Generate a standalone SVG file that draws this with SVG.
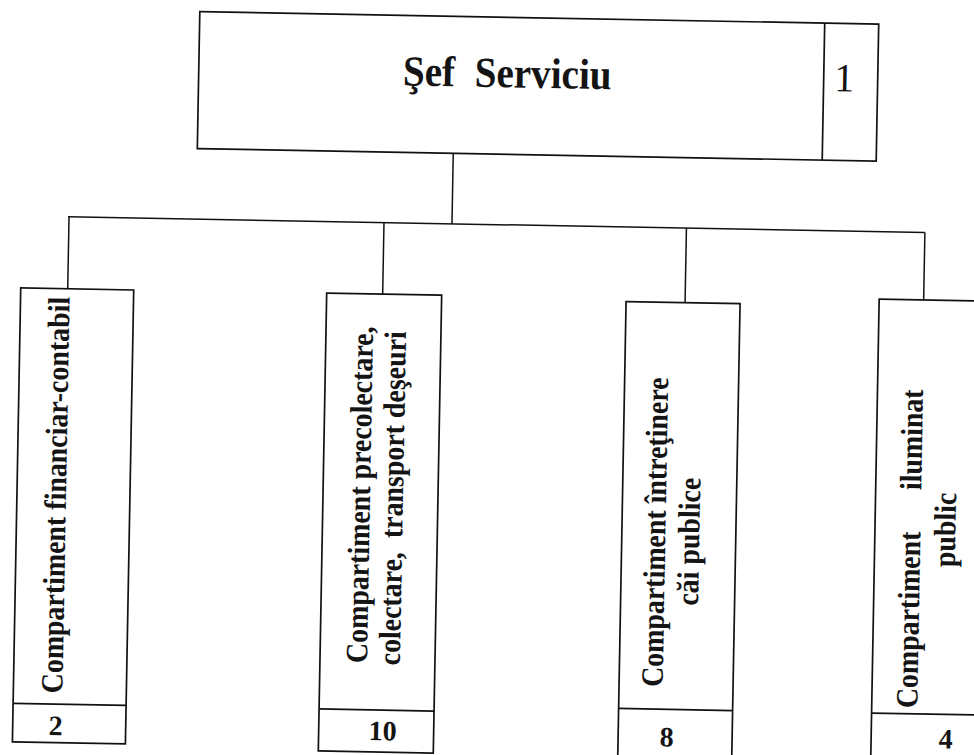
<svg xmlns="http://www.w3.org/2000/svg" width="974" height="755" viewBox="0 0 974 755">
<style>
.box{fill:none;stroke:#111;stroke-width:1.7}
.ln{stroke:#111;stroke-width:1.5;fill:none}
.t{font-family:"Liberation Serif","Times New Roman",serif;font-weight:bold;fill:#141414;white-space:pre}
.v{font-size:31px;text-anchor:middle}
.n{font-size:28px;text-anchor:middle}
</style>
<rect width="974" height="755" fill="#ffffff"/>
<g transform="rotate(1.05)">
<g id="connectors">
<line class="ln" x1="456" y1="145" x2="456" y2="215.5"/>
<line class="ln" x1="72" y1="215.5" x2="929" y2="215.5"/>
<line class="ln" x1="73" y1="215.5" x2="73" y2="287.5"/>
<line class="ln" x1="388" y1="215.5" x2="388" y2="287"/>
<line class="ln" x1="690.5" y1="215.5" x2="690.5" y2="290"/>
<line class="ln" x1="929" y1="215.5" x2="929" y2="283"/>
</g>
<g id="node-sef">
<rect class="box" x="200" y="8" width="679" height="137"/>
<line class="box" x1="825" y1="8" x2="825" y2="145"/>
<text class="t" transform="translate(508.5 78) scale(0.91 1)" x="0" y="0" font-size="43" text-anchor="middle">Şef  Serviciu</text>
<text class="t" x="845.5" y="76" font-size="40" style="font-weight:normal" text-anchor="middle">1</text>
</g>
<g id="node-financiar">
<rect class="box" x="26" y="287.5" width="113" height="454"/>
<line class="box" x1="26" y1="703" x2="139" y2="703"/>
<text class="t v" transform="translate(75 494) rotate(-90) scale(0.9 1)" x="0" y="0">Compartiment financiar-contabil</text>
<text class="t n" x="69" y="734">2</text>
</g>
<g id="node-precolectare">
<rect class="box" x="332" y="287" width="115" height="458"/>
<line class="box" x1="332" y1="703" x2="447" y2="703"/>
<text class="t v" transform="translate(379 488) rotate(-90) scale(0.9 1)" x="0" y="0">Compartiment precolectare,</text>
<text class="t v" transform="translate(412 491) rotate(-90) scale(0.9 1)" x="0" y="0">colectare,  transport deşeuri</text>
<text class="t n" x="396" y="733">10</text>
</g>
<g id="node-intretinere">
<rect class="box" x="631.5" y="290" width="114" height="460"/>
<line class="box" x1="631.5" y1="697" x2="745.5" y2="697"/>
<text class="t v" transform="translate(675 520) rotate(-90) scale(0.9 1)" x="0" y="0">Compartiment întreţinere</text>
<text class="t v" transform="translate(709 529) rotate(-90) scale(0.9 1)" x="0" y="0">căi publice</text>
<text class="t n" x="680" y="734">8</text>
</g>
<g id="node-iluminat">
<rect class="box" x="884.5" y="283" width="114" height="467"/>
<line class="box" x1="884.5" y1="697" x2="998.5" y2="697"/>
<text class="t v" transform="translate(930 532) rotate(-90) scale(0.9 1)" x="0" y="0">Compartiment<tspan dx="46">iluminat</tspan></text>
<text class="t v" transform="translate(965 512.5) rotate(-90) scale(0.9 1)" x="0" y="0">public</text>
<text class="t n" x="959" y="731">4</text>
</g>
</g>
</svg>
